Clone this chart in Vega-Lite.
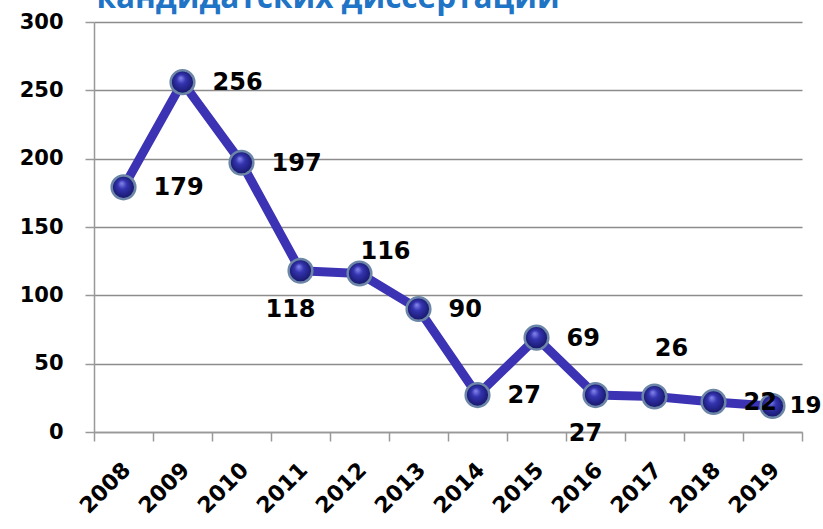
{
  "$schema": "https://vega.github.io/schema/vega-lite/v6.json",
  "width": 708,
  "height": 410,
  "autosize": "none",
  "padding": {"left": 94, "top": 22, "right": 21, "bottom": 97},
  "background": "white",
  "title": {
    "text": "кандидатских диссертаций",
    "anchor": "middle",
    "dx": -120,
    "dy": 28,
    "offset": 0,
    "baseline": "alphabetic",
    "font": "Open Sans",
    "fontWeight": "bold",
    "fontSize": 31.5,
    "color": "#1f74c6"
  },
  "config": {
    "view": {"stroke": null}
  },
  "data": {
    "values": [
      {"year": "2008", "value": 179},
      {"year": "2009", "value": 256},
      {"year": "2010", "value": 197},
      {"year": "2011", "value": 118},
      {"year": "2012", "value": 116},
      {"year": "2013", "value": 90},
      {"year": "2014", "value": 27},
      {"year": "2015", "value": 69},
      {"year": "2016", "value": 27},
      {"year": "2017", "value": 26},
      {"year": "2018", "value": 22},
      {"year": "2019", "value": 19}
    ]
  },
  "encoding": {
    "x": {
      "field": "year", "type": "ordinal", "title": null,
      "scale": {"paddingInner": 0, "paddingOuter": 0},
      "axis": {
        "labelFont": "DejaVu Sans", "labelFontWeight": "bold", "labelColor": "black", "labelFontSize": 22,
        "labelAngle": -45, "labelAlign": "right", "labelBaseline": "middle",
        "labelPadding": 25, "labelOffset": 3,
        "tickBand": "extent", "tickSize": 9, "tickColor": "#999999", "tickWidth": 1.5,
        "domainColor": "#999999", "domainWidth": 1.5, "grid": false
      }
    },
    "y": {
      "field": "value", "type": "quantitative", "title": null,
      "scale": {"domain": [0, 300], "nice": false},
      "axis": {
        "labelFont": "DejaVu Sans", "labelFontWeight": "bold", "labelColor": "black", "labelFontSize": 21,
        "values": [0, 50, 100, 150, 200, 250, 300],
        "tickSize": 9, "tickColor": "#999999", "tickWidth": 1.5,
        "domainColor": "#999999", "domainWidth": 1.5,
        "gridColor": "#8c8c8c", "gridWidth": 1.5, "gridOpacity": 1,
        "labelPadding": 22
      }
    }
  },
  "layer": [
    {"mark": {"type": "line", "color": "#3b32b4", "strokeWidth": 9, "strokeJoin": "round"}},
    {
      "mark": {
        "type": "point", "shape": "circle", "size": 560, "opacity": 1,
        "filled": true,
        "fill": {
          "gradient": "radial",
          "x1": 0.42, "y1": 0.32, "r1": 0,
          "x2": 0.5, "y2": 0.5, "r2": 0.55,
          "stops": [
            {"offset": 0, "color": "#8a8af0"},
            {"offset": 0.35, "color": "#3434b0"},
            {"offset": 0.8, "color": "#1c1c78"},
            {"offset": 1, "color": "#121250"}
          ]
        },
        "stroke": "#6c86a8", "strokeWidth": 2.5
      }
    },
    {
      "transform": [{"filter": {"field": "year", "oneOf": ["2008", "2009", "2010", "2013", "2014", "2015", "2018"]}}],
      "mark": {"type": "text", "align": "left", "baseline": "middle", "dx": 30, "dy": 1, "font": "DejaVu Sans", "fontWeight": "bold", "fontSize": 24, "color": "black"},
      "encoding": {"text": {"field": "value", "type": "quantitative"}}
    },
    {
      "transform": [{"filter": {"field": "year", "oneOf": ["2019"]}}],
      "mark": {"type": "text", "align": "left", "baseline": "middle", "dx": 17, "dy": 0, "font": "DejaVu Sans", "fontWeight": "bold", "fontSize": 23, "color": "black"},
      "encoding": {"text": {"field": "value", "type": "quantitative"}}
    },
    {
      "transform": [{"filter": {"field": "year", "oneOf": ["2011", "2016"]}}],
      "mark": {"type": "text", "align": "center", "baseline": "middle", "dx": -10, "dy": 39, "font": "DejaVu Sans", "fontWeight": "bold", "fontSize": 24, "color": "black"},
      "encoding": {"text": {"field": "value", "type": "quantitative"}}
    },
    {
      "transform": [{"filter": {"field": "year", "oneOf": ["2012"]}}],
      "mark": {"type": "text", "align": "center", "baseline": "middle", "dx": 26, "dy": -21, "font": "DejaVu Sans", "fontWeight": "bold", "fontSize": 24, "color": "black"},
      "encoding": {"text": {"field": "value", "type": "quantitative"}}
    },
    {
      "transform": [{"filter": {"field": "year", "oneOf": ["2017"]}}],
      "mark": {"type": "text", "align": "center", "baseline": "middle", "dx": 17, "dy": -47, "font": "DejaVu Sans", "fontWeight": "bold", "fontSize": 24, "color": "black"},
      "encoding": {"text": {"field": "value", "type": "quantitative"}}
    }
  ]
}
